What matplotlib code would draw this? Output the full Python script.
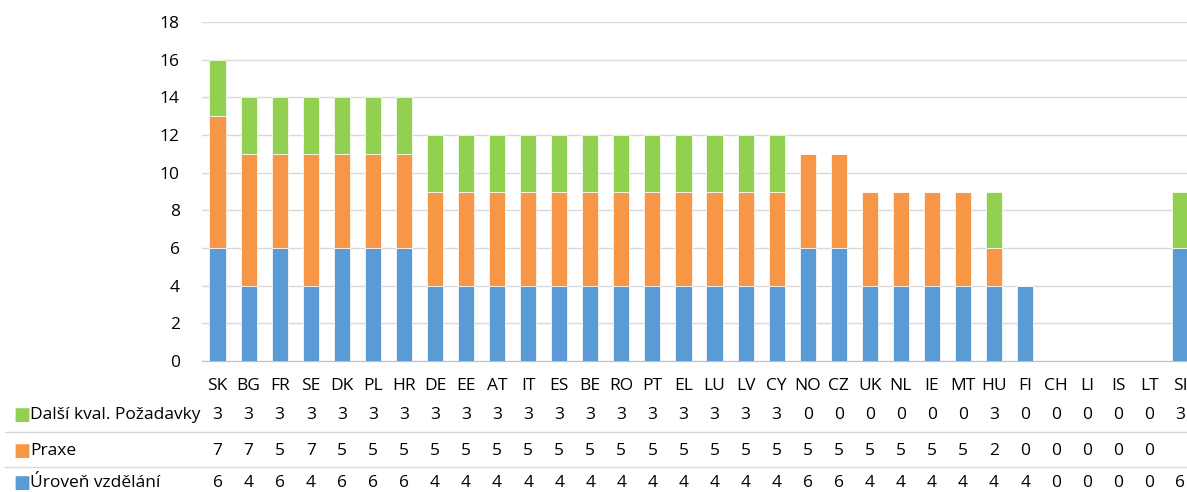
import matplotlib
matplotlib.use('Agg')
import matplotlib.pyplot as plt
import numpy as np

countries = ['SK', 'BG', 'FR', 'SE', 'DK', 'PL', 'HR', 'DE', 'EE', 'AT', 'IT', 'ES', 'BE', 'RO',
             'PT', 'EL', 'LU', 'LV', 'CY', 'NO', 'CZ', 'UK', 'NL', 'IE', 'MT', 'HU', 'FI', 'CH',
             'LI', 'IS', 'LT', 'SI']
uroven = [6, 4, 6, 4, 6, 6, 6, 4, 4, 4, 4, 4, 4, 4, 4, 4, 4, 4, 4, 6, 6, 4, 4, 4, 4, 4, 4, 0, 0, 0, 0, 6]
praxe = [7, 7, 5, 7, 5, 5, 5, 5, 5, 5, 5, 5, 5, 5, 5, 5, 5, 5, 5, 5, 5, 5, 5, 5, 5, 2, 0, 0, 0, 0, 0, None]
dalsi = [3, 3, 3, 3, 3, 3, 3, 3, 3, 3, 3, 3, 3, 3, 3, 3, 3, 3, 3, 0, 0, 0, 0, 0, 0, 3, 0, 0, 0, 0, 0, 3]

series = [('Další kval. Požadavky', dalsi, '#92D050'),
          ('Praxe', praxe, '#F79646'),
          ('Úroveň vzdělání', uroven, '#5B9BD5')]

plt.rcParams['font.family'] = ['Open Sans', 'DejaVu Sans']
W, H = 1187, 492
fig = plt.figure(figsize=(W / 100, H / 100), dpi=100)
# axes extends past right edge of the picture, as in the reference
left, right, top, bottom = 202, 1196, 22, 361
ax = fig.add_axes([left / W, 1 - bottom / H, (right - left) / W, (bottom - top) / H])

x = np.arange(len(countries))
u = np.array(uroven, float)
p = np.array([0 if v is None else v for v in praxe], float)
d = np.array(dalsi, float)
kw = dict(width=0.52, edgecolor='#FFFFFF', linewidth=0.5, zorder=3)
ax.bar(x, u, color='#5B9BD5', **kw)
ax.bar(x, p, bottom=u, color='#F79646', **kw)
ax.bar(x, d, bottom=u + p, color='#92D050', **kw)

ax.set_xlim(-0.5, len(countries) - 0.5)
ax.set_ylim(0, 18)
ax.set_yticks(range(0, 19, 2))
ax.grid(axis='y', color='#D9D9D9', linewidth=1, zorder=0)
for s in ['top', 'right', 'left']:
    ax.spines[s].set_visible(False)
ax.spines['bottom'].set_color('#BFBFBF')
ax.tick_params(axis='y', length=0, pad=16, labelsize=12.5)
ax.set_xticks(x)
ax.set_xticklabels(countries)
ax.tick_params(axis='x', length=0, pad=12, labelsize=12.5)

# data table below the chart
trans = matplotlib.transforms.blended_transform_factory(ax.transData, fig.transFigure)
rows_y = [415, 451, 483]
for (name, vals, col), ry in zip(series, rows_y):
    fy = 1 - ry / H
    fig.text(13 / W, fy, '\u25A0', color=col, fontsize=13, va='center', ha='left',
             family=['DejaVu Sans'])
    fig.text(30 / W, fy, name, fontsize=12.5, va='center', ha='left')
    for xi, v in zip(x, vals):
        if v is None:
            continue
        ax.text(xi, fy, str(v), transform=trans, fontsize=12.5, va='center', ha='center',
                clip_on=False)
for ly in [432, 467]:
    fig.add_artist(plt.Line2D([5 / W, 1], [1 - ly / H, 1 - ly / H], color='#D9D9D9', linewidth=1))

fig.savefig('out.png', dpi=100)
